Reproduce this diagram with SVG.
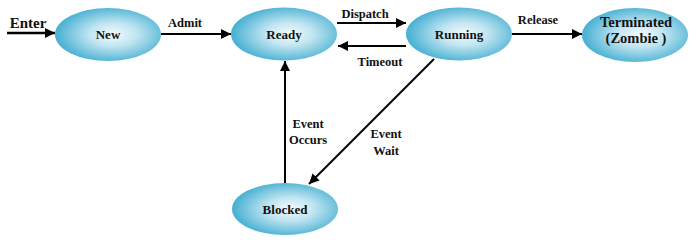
<svg xmlns="http://www.w3.org/2000/svg" width="698" height="243" viewBox="0 0 698 243">
<defs>
<radialGradient id="g" cx="0.55" cy="0.5" r="0.55">
<stop offset="0" stop-color="#f4fbfd"/>
<stop offset="0.4" stop-color="#c2e5f1"/>
<stop offset="1" stop-color="#44afd2"/>
</radialGradient>
<marker id="ahb" viewBox="0 0 10 10" refX="10" refY="5" markerWidth="16" markerHeight="10" markerUnits="userSpaceOnUse" orient="auto">
<path d="M0,0 L10,5 L0,10 z" fill="#000"/>
</marker>
</defs>
<style>
ellipse{fill:url(#g);}
text{font-family:'Liberation Serif','DejaVu Serif','Times New Roman',serif;font-weight:bold;fill:#111;text-anchor:middle;font-size:13px;}
.lbl{font-size:12.5px;}
.big{font-size:14.5px;}
line{stroke:#000;stroke-width:2;marker-end:url(#ahb);}
</style>
<g id="connectors">
<line x1="7" y1="33" x2="55" y2="33" style="stroke-width:2.5"/>
<line x1="161" y1="34" x2="231" y2="34"/>
<line x1="337" y1="23" x2="406" y2="23"/>
<line x1="406" y1="46" x2="338" y2="46"/>
<line x1="512" y1="34" x2="582" y2="34"/>
<line x1="285" y1="183" x2="285" y2="61"/>
<line x1="434" y1="59" x2="309" y2="184"/>
<text x="28" y="28" style="font-size:15px">Enter</text>
<text class="lbl" x="185" y="27">Admit</text>
<text class="lbl" x="365" y="18">Dispatch</text>
<text class="lbl" x="380" y="66">Timeout</text>
<text class="lbl" x="538" y="24">Release</text>
<text class="lbl" x="308" y="128">Event</text>
<text class="lbl" x="308" y="144">Occurs</text>
<text class="lbl" x="386" y="138">Event</text>
<text class="lbl" x="386" y="155">Wait</text>
</g>
<g id="new"><ellipse cx="108" cy="34.5" rx="53" ry="26.5"/><text x="108" y="39">New</text></g>
<g id="ready"><ellipse cx="284" cy="34" rx="53" ry="26.5"/><text x="284" y="39">Ready</text></g>
<g id="running"><ellipse cx="459" cy="34" rx="53" ry="26.5"/><text x="459" y="39">Running</text></g>
<g id="terminated"><ellipse cx="635" cy="35" rx="53" ry="27"/><text class="big" x="636" y="27">Terminated</text><text class="big" x="636" y="43">(Zombie )</text></g>
<g id="blocked"><ellipse cx="285" cy="209" rx="53" ry="26"/><text x="285" y="214">Blocked</text></g>
</svg>
